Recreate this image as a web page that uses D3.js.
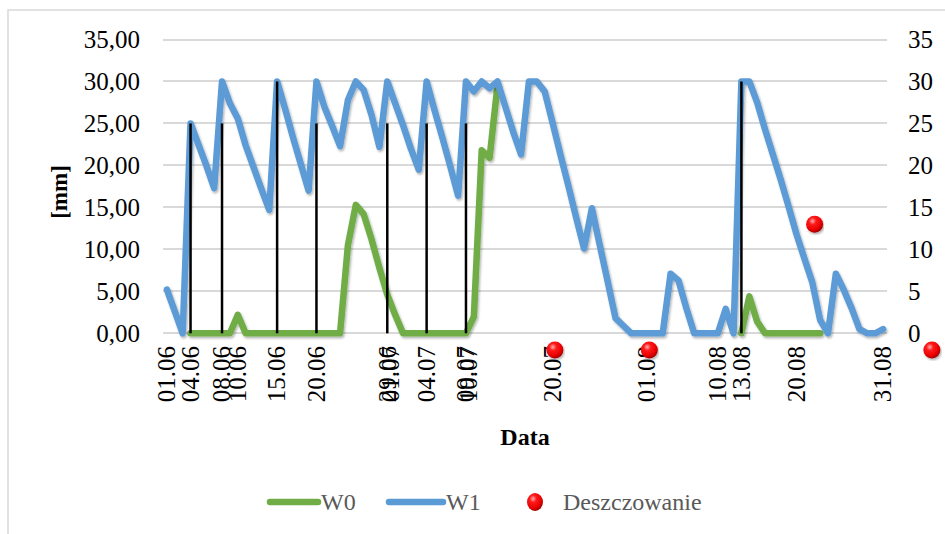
<!DOCTYPE html>
<html lang="pl">
<head>
<meta charset="UTF-8">
<title>W0 / W1</title>
<style>
  body{margin:0;background:#fff;}
  text{font-family:"Liberation Serif","Times New Roman",serif;}
  .grid line{stroke:#d9d9d9;stroke-width:1.5;shape-rendering:crispEdges;}
  .axis path{display:none;}
  .axis line{display:none;}
  .axis text{font-size:25px;fill:#000;}
</style>
</head>
<body>
<script src="https://cdn.jsdelivr.net/npm/d3@7"></script>
<script>
// day index 0 = 01.06, 91 = 31.08
var w1 = [5.2,2.6,0,25.0,22.5,20.0,17.3,30.0,27.4,25.6,
          22.4,19.8,17.2,14.7,30.0,26.8,23.4,20.2,17.0,30.0,
          27.0,24.7,22.3,27.8,30.0,29.0,26.0,22.2,30.0,27.4,
          24.8,22.0,19.5,30.0,26.6,23.3,19.9,16.4,30.0,28.8,
          30.0,29.2,30.0,27.0,24.0,21.3,30.0,30.0,28.8,25.1,
          21.3,17.6,13.8,10.1,14.9,10.5,6.2,1.8,0.9,0,
          0,0,0,0,7.1,6.3,3.0,0,0,0,
          0,2.9,0,30.0,30.0,27.5,24.3,21.3,18.3,15.1,
          11.8,8.9,6.1,1.6,0,7.1,5.2,3.0,0.5,0,
          0,0.5];
// null = not visible in the picture (hidden under W1)
var w0 = [null,null,null,0,0,0,0,0,0,2.2,
          0,0,0,0,0,0,0,0,0,0,
          0,0,0,10.5,15.3,14.2,11.2,7.8,4.6,2.2,
          0,0,0,0,0,0,0,0,0,2.0,
          21.8,20.9,29.5,null,null,null,null,null,null,null,
          null,null,null,null,null,null,null,null,null,null,
          null,null,null,null,null,null,null,null,null,null,
          null,null,null,0,4.4,1.4,0,0,0,0,
          0,0,0,0,null,null,null,null,null,null,
          null,null];
// irrigation doses (black bars)
var dawkaDzien = [3,7,14,19,28,33,38,73];
var dawka      = [25,25,30,25,25,25,25,30];
// Deszczowanie (red points)
var deszczDzien = [49.3,61.3,82.3,97.2];
var deszcz      = [-2,-2,13,-2];
// x tick labels
var tickLabels = ["01.06","04.06","08.06","10.06","15.06","20.06","29.06","01.07","04.07",
                  "09.07","10.07","20.07","01.08","10.08","13.08","20.08","31.08"];
var tickDays   = [0,3,7,9,14,19,28,28.4,33,38,38.3,49,61,70,73,80,91];
var yTicks = [0,5,10,15,20,25,30,35];

var W = 945, H = 534;
var pL = 163, pR = 887, pT = 39.5, pB = 333.3;

var svg = d3.select("body").append("svg")
    .attr("width", W).attr("height", H);

var defs = svg.append("defs");
var sh = defs.append("filter").attr("id","shadow")
    .attr("x","-5%").attr("y","-5%").attr("width","110%").attr("height","115%");
sh.append("feDropShadow").attr("dx",1.2).attr("dy",1.8)
    .attr("stdDeviation",1.2).attr("flood-color","#000").attr("flood-opacity",0.3);
var rg = defs.append("radialGradient").attr("id","ball")
    .attr("cx","38%").attr("cy","32%").attr("r","70%");
rg.append("stop").attr("offset","0%").attr("stop-color","#ffb0b0");
rg.append("stop").attr("offset","30%").attr("stop-color","#ff1a1a");
rg.append("stop").attr("offset","75%").attr("stop-color","#e60000");
rg.append("stop").attr("offset","100%").attr("stop-color","#9a0000");

// chart frame
svg.append("rect").attr("x",8).attr("y",10).attr("width",1000).attr("height",600)
    .attr("fill","none").attr("stroke","#d9d9d9").attr("stroke-width",1.5);

var x = d3.scaleLinear().domain([-0.5, 91.5]).range([pL, pR]);
var y = d3.scaleLinear().domain([0, 35]).range([pB, pT]);

// gridlines
svg.append("g").attr("class","grid")
  .selectAll("line").data(yTicks).enter().append("line")
    .attr("x1", pL).attr("x2", pR)
    .attr("y1", function(d){return Math.round(y(d));})
    .attr("y2", function(d){return Math.round(y(d));});

// left axis
svg.append("g").attr("class","axis")
    .attr("transform","translate(" + (pL - 23) + ",0)")
    .call(d3.axisLeft(y).tickValues(yTicks).tickSize(0).tickPadding(0)
        .tickFormat(function(d){return d3.format(".2f")(d).replace(".", ",");}));
// right axis
svg.append("g").attr("class","axis")
    .attr("transform","translate(" + (pR + 21) + ",0)")
    .call(d3.axisRight(y).tickValues(yTicks).tickSize(0).tickPadding(0)
        .tickFormat(d3.format("d")));

// x tick labels, rotated
svg.append("g").attr("class","axis")
  .selectAll("text").data(tickLabels).enter().append("text")
    .attr("transform", function(d, i){return "translate(" + x(tickDays[i]) + ",346) rotate(-90)";})
    .attr("text-anchor","end")
    .attr("dy","0.33em")
    .text(function(d){return d;});

// axis titles
svg.append("text")
    .attr("transform","translate(59,192) rotate(-90)")
    .attr("text-anchor","middle").attr("dy","0.35em")
    .style("font-size","23px").style("font-weight","bold")
    .text("[mm]");
svg.append("text")
    .attr("x",525).attr("y",445)
    .attr("text-anchor","middle")
    .style("font-size","24px").style("font-weight","bold")
    .text("Data");

// lines
var line = d3.line()
    .defined(function(d){return d !== null;})
    .x(function(d, i){return x(i);})
    .y(function(d){return y(d);});

svg.append("path").datum(w0)
    .attr("d", line)
    .attr("fill","none").attr("stroke","#70ad47").attr("stroke-width",6.5)
    .attr("stroke-linejoin","round").attr("stroke-linecap","round")
    .attr("filter","url(#shadow)");
svg.append("path").datum(w1)
    .attr("d", line)
    .attr("fill","none").attr("stroke","#5b9bd5").attr("stroke-width",6.5)
    .attr("stroke-linejoin","round").attr("stroke-linecap","round")
    .attr("filter","url(#shadow)");

// irrigation bars
svg.append("g").selectAll("line").data(dawka).enter().append("line")
    .attr("x1", function(d, i){return x(dawkaDzien[i]);})
    .attr("x2", function(d, i){return x(dawkaDzien[i]);})
    .attr("y1", y(0))
    .attr("y2", function(d){return y(d);})
    .attr("stroke","#000").attr("stroke-width",2.5);

// rain points
svg.append("g").selectAll("circle").data(deszcz).enter().append("circle")
    .attr("cx", function(d, i){return x(deszczDzien[i]);})
    .attr("cy", function(d){return y(d);})
    .attr("r", 8.5)
    .attr("fill","url(#ball)")
    .attr("filter","url(#shadow)");

// legend
var lg = svg.append("g").attr("transform","translate(0,502)");
lg.append("line").attr("x1",270).attr("x2",318).attr("y1",0).attr("y2",0)
    .attr("stroke","#70ad47").attr("stroke-width",6.5).attr("stroke-linecap","round");
lg.append("text").attr("x",321).attr("y",0).attr("dy","0.35em")
    .style("font-size","24px").attr("fill","#595959").text("W0");
lg.append("line").attr("x1",389).attr("x2",443).attr("y1",0).attr("y2",0)
    .attr("stroke","#5b9bd5").attr("stroke-width",6.5).attr("stroke-linecap","round");
lg.append("text").attr("x",446).attr("y",0).attr("dy","0.35em")
    .style("font-size","24px").attr("fill","#595959").text("W1");
lg.append("ellipse").attr("cx",535).attr("cy",0).attr("rx",8).attr("ry",9)
    .attr("fill","url(#ball)");
lg.append("text").attr("x",563).attr("y",0).attr("dy","0.35em")
    .style("font-size","24px").attr("fill","#595959").text("Deszczowanie");
</script>
</body>
</html>
